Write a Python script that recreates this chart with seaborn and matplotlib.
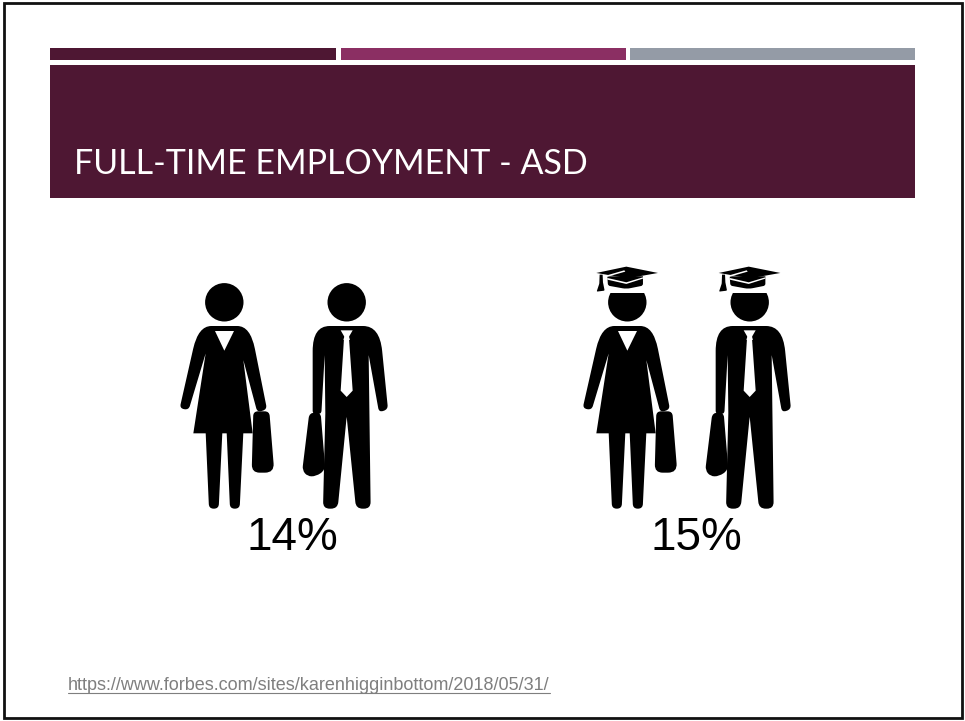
import numpy as np
import matplotlib
matplotlib.use("Agg")
import matplotlib.pyplot as plt
from matplotlib.path import Path
from matplotlib.patches import PathPatch, Circle, Rectangle
import seaborn as sns

TITLE = "FULL-TIME EMPLOYMENT - ASD"
SOURCE = "https://www.forbes.com/sites/karenhigginbottom/2018/05/31/"
GROUPS = ["No degree", "Degree"]
PERCENTS = [14, 15]
ACCENT_COLOURS = ["#4e1733", "#8b2f63", "#949ba6"]
HEADER_COLOUR = "#4e1733"

sns.set_theme(style="white")
plt.rcParams["font.family"] = ["Liberation Sans", "DejaVu Sans"]

fig = plt.figure(figsize=(9.65, 7.21), dpi=100, facecolor="white")
ax = fig.add_axes([0, 0, 1, 1])
ax.set_xlim(0, 965)
ax.set_ylim(721, 0)
ax.axis("off")


def rounded(points):
    """Closed path through (x, y, radius) corners, smoothed with quadratic curves."""
    n = len(points)
    verts, codes = [], []
    for i, (x, y, r) in enumerate(points):
        p = np.array([x, y], float)
        prev = np.array(points[i - 1][:2], float)
        nxt = np.array(points[(i + 1) % n][:2], float)
        a = p - min(r, np.linalg.norm(p - prev) / 2) * (p - prev) / np.linalg.norm(p - prev)
        b = p + min(r, np.linalg.norm(nxt - p) / 2) * (nxt - p) / np.linalg.norm(nxt - p)
        verts.append(a)
        codes.append(Path.MOVETO if i == 0 else Path.LINETO)
        verts += [p, b]
        codes += [Path.CURVE3, Path.CURVE3]
    verts.append(verts[0])
    codes.append(Path.CLOSEPOLY)
    return np.array(verts), codes


def shape(points, dx, colour="black", zorder=3):
    # outline coordinates are in third-of-a-pixel units around the first pair's origin
    pts = [(170 + x / 3 + dx, 270 + y / 3, r / 3) for x, y, r in points]
    v, c = rounded(pts)
    ax.add_patch(PathPatch(Path(v, c), fc=colour, ec="none", zorder=zorder))


WOMAN = [(163, 168, 0), (241, 168, 70), (291, 418, 13), (262, 427, 13),
         (220, 270, 2), (248, 490, 0), (70, 490, 0), (107, 250, 2), (56, 420, 13),
         (29, 415, 13), (85, 168, 70)]
WOMAN_LEGS = [[(107, 488, 0), (157, 488, 0), (146, 716, 14), (117, 716, 14)],
              [(170, 488, 0), (220, 488, 0), (209, 716, 14), (180, 716, 14)]]
WOMAN_NECK = [(135, 183, 0), (192, 183, 0), (163, 242, 0)]
WOMAN_BAG = [(250, 424, 14), (298, 424, 14), (313, 608, 28), (245, 608, 24)]

MAN = [(530, 168, 0), (629, 168, 75), (654, 418, 13), (627, 427, 13),
       (596, 255, 2), (602, 716, 20), (558, 716, 20), (530, 440, 3), (503, 716, 20),
       (459, 716, 20), (466, 430, 0), (464, 255, 2), (454, 432, 10), (428, 432, 10),
       (428, 168, 75)]
MAN_KNOT = [(512, 181, 0), (548, 181, 0), (537, 200, 2), (540, 210, 2), (520, 210, 2), (523, 200, 2)]
MAN_TIE = [(522, 205, 0), (537, 205, 0), (548, 362, 0), (530, 381, 0), (512, 362, 0)]
MAN_BAG = [(418, 428, 16), (452, 428, 14), (466, 600, 18), (438, 619, 16), (412, 619, 20), (397, 600, 12)]

# mortarboard outlines, relative to the head centre
BOARD = [(-93, -88, 0), (-3, -107, 0), (92, -88, 0), (2, -72, 0)]
BOARD_BAND = [(-60, -78, 0), (47, -78, 0), (47, -50, 6), (-3, -40, 12), (-58, -50, 6)]
TASSEL = [(-83, -83, 0), (-74, -83, 0), (-73, -60, 0), (-68, -35, 3), (-92, -32, 3), (-84, -56, 2)]
BOARD_LINE = [(-68, -79, 0), (-9, -96, 0), (-6, -92, 0), (-66, -75, 0)]
BAND_LINE = [(-60, -73, 0), (-3, -60, 0), (47, -75, 0), (47, -71, 0), (-3, -55, 0), (-60, -68, 0)]


def head(cx, cy, flat=False):
    disc = Circle((cx, cy), 19.2, fc="black", ec="none", zorder=3)
    ax.add_patch(disc)
    if flat:
        window = Rectangle((cx - 25, cy - 9.2), 50, 40, transform=ax.transData)
        disc.set_clip_path(window)


def cap(cx, cy):
    def around(points):
        return [(cx + x / 3, cy + y / 3, r / 3) for x, y, r in points]
    for outline, colour in ((BOARD, "black"), (BOARD_BAND, "black"), (TASSEL, "black"),
                            (BOARD_LINE, "white"), (BAND_LINE, "white")):
        v, c = rounded(around(outline))
        ax.add_patch(PathPatch(Path(v, c), fc=colour, ec="none", zorder=4))


def pair(dx, graduate):
    shape(WOMAN, dx)
    for leg in WOMAN_LEGS:
        shape(leg, dx)
    shape(WOMAN_NECK, dx, "white", 5)
    shape(WOMAN_BAG, dx)
    shape(MAN, dx)
    shape(MAN_KNOT, dx, "white", 5)
    shape(MAN_TIE, dx, "white", 5)
    shape(MAN_BAG, dx)
    for cx in (224.3, 346.7):
        head(cx + dx, 302.3, flat=graduate)
        if graduate:
            cap(cx + dx, 302.3)


# slide frame
ax.add_patch(Rectangle((4, 3), 958, 715, fc="white", ec="#111111", lw=2.0, zorder=1))

# accent strips and title band
for left, width, colour in zip((50, 341, 630), (286, 285, 285), ACCENT_COLOURS):
    ax.add_patch(Rectangle((left, 48), width, 12, fc=colour, ec="none", zorder=2))
ax.add_patch(Rectangle((50, 65), 865, 133, fc=HEADER_COLOUR, ec="none", zorder=2))
ax.text(74, 173.5, TITLE, color="white", fontsize=24.5, family=["Lato", "DejaVu Sans"],
        va="baseline", ha="left", zorder=3)

# the two pictogram groups and their shares
for i, (group, pct) in enumerate(zip(GROUPS, PERCENTS)):
    pair(403 * i, group == "Degree")
    ax.text(292.5 + 403.5 * i, 550, f"{pct}%", color="black", fontsize=33,
            ha="center", va="baseline", zorder=6)

# underlined source link
link = ax.text(68, 690, SOURCE, color="#7f7f7f", fontsize=12.96, ha="left", va="baseline", zorder=3)
fig.canvas.draw()
box = link.get_window_extent(fig.canvas.get_renderer())
ax.plot([box.x0, box.x1], [692.5, 692.5], color="#7f7f7f", lw=0.8, zorder=3)

sns.despine(ax=ax, left=True, bottom=True)
fig.savefig("out.png", dpi=100)
